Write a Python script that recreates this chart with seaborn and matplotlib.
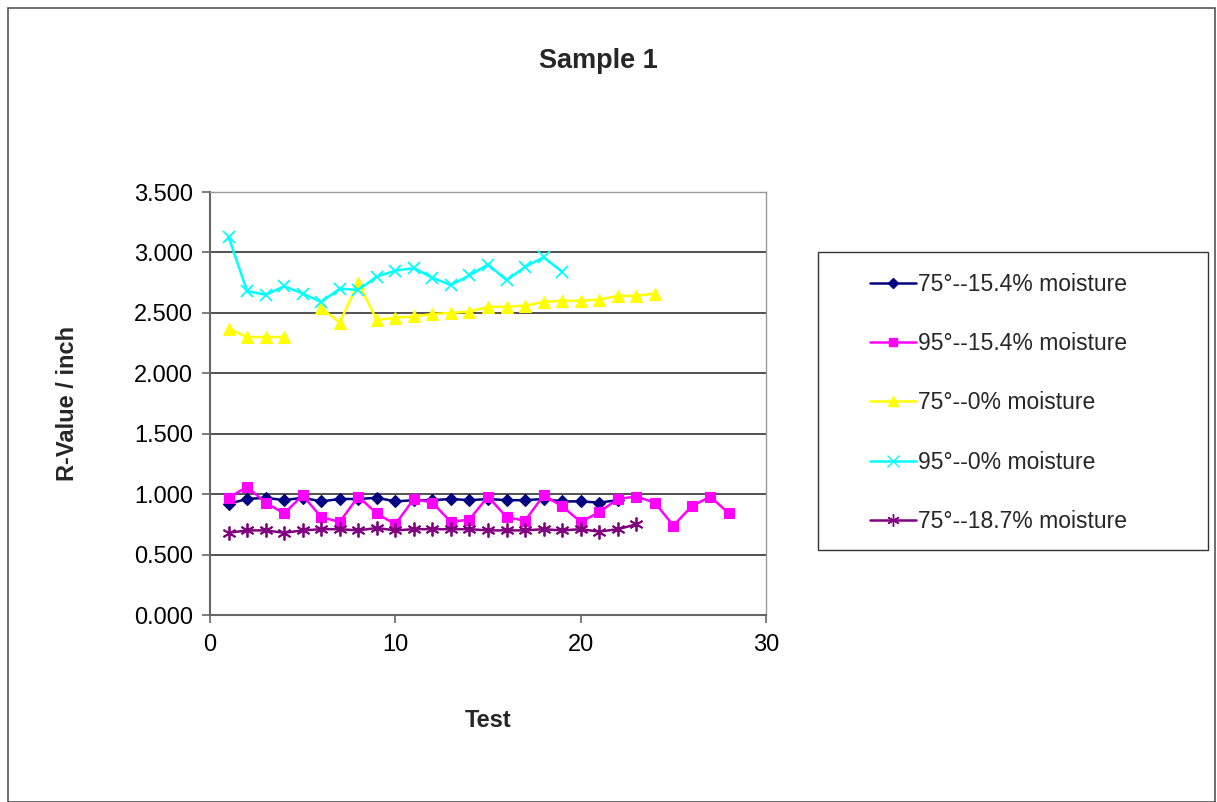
import numpy as np
import pandas as pd
import seaborn as sns
import matplotlib
matplotlib.use("Agg")
import matplotlib.pyplot as plt
from matplotlib.patches import Rectangle
from matplotlib.lines import Line2D

# Series readings (R-value per inch for each test run)
labels = [
    "75°--15.4% moisture",
    "95°--15.4% moisture",
    "75°--0% moisture",
    "95°--0% moisture",
    "75°--18.7% moisture",
]

r_75_154 = [0.92, 0.96, 0.97, 0.95, 0.97, 0.94, 0.96, 0.96, 0.97, 0.94, 0.95,
            0.95, 0.96, 0.95, 0.96, 0.95, 0.95, 0.96, 0.94, 0.94, 0.93, 0.95]
r_95_154 = [0.97, 1.06, 0.93, 0.84, 0.99, 0.81, 0.77, 0.98, 0.84, 0.75, 0.96,
            0.93, 0.77, 0.79, 0.98, 0.81, 0.78, 0.99, 0.90, 0.77, 0.85, 0.96,
            0.98, 0.93, 0.74, 0.90, 0.98, 0.84]
r_75_0 = [2.37, 2.30, 2.30, 2.30, np.nan, 2.54, 2.42, 2.75, 2.44, 2.46, 2.47,
          2.49, 2.50, 2.51, 2.55, 2.55, 2.56, 2.59, 2.60, 2.60, 2.61, 2.64,
          2.64, 2.66]
r_95_0 = [3.13, 2.68, 2.65, 2.72, 2.66, 2.59, 2.70, 2.69, 2.80, 2.85, 2.87,
          2.79, 2.73, 2.81, 2.90, 2.77, 2.88, 2.96, 2.84]
r_75_187 = [0.68, 0.70, 0.70, 0.68, 0.70, 0.71, 0.71, 0.70, 0.72, 0.70, 0.71,
            0.71, 0.71, 0.71, 0.70, 0.70, 0.70, 0.71, 0.70, 0.71, 0.69, 0.71,
            0.75]

series_values = [r_75_154, r_95_154, r_75_0, r_95_0, r_75_187]

colors = ["#000080", "#FF00FF", "#FFFF00", "#00FFFF", "#800080"]
markers = ["D", "s", "^", "x", (6, 2, 0)]
msizes = [6, 7, 8, 9, 10]

# Long-form table; a break in a series (missing test) starts a new segment
rows = []
for name, vals in zip(labels, series_values):
    seg = 0
    for i, v in enumerate(vals, start=1):
        if np.isnan(v):
            seg += 1
            continue
        rows.append({"series": name, "Test": i, "R": v, "seg": f"{name}-{seg}"})
df = pd.DataFrame(rows)

sns.set_style("white")
plt.rcParams["font.family"] = ["Liberation Sans", "DejaVu Sans"]

W, H = 1217, 802
fig = plt.figure(figsize=(W / 100, H / 100), dpi=100)
ax = fig.add_axes([210 / W, 1 - 615 / H, 556 / W, 423 / H])

for name, col, mk, ms in zip(labels, colors, markers, msizes):
    sub = df[df["series"] == name]
    thin = mk == "x" or isinstance(mk, tuple)
    sns.lineplot(data=sub, x="Test", y="R", units="seg", estimator=None,
                 color=col, marker=mk, markersize=ms, markeredgecolor=col,
                 markeredgewidth=1.3 if thin else 0.8,
                 linewidth=1.8, ax=ax, legend=False, sort=False)

ax.set_xlim(0, 30)
ax.set_ylim(0, 3.5)
ax.set_xticks([0, 10, 20, 30])
ax.set_yticks(np.arange(0, 3.51, 0.5))
ax.yaxis.set_major_formatter(matplotlib.ticker.FormatStrFormatter("%.3f"))
ax.grid(axis="y", color="#333333", linewidth=1.2)
ax.grid(axis="x", visible=False)
ax.set_axisbelow(True)
for side in ["top", "right"]:
    ax.spines[side].set_color("#999999")
    ax.spines[side].set_linewidth(1.0)
for side in ["left", "bottom"]:
    ax.spines[side].set_color("#666666")
    ax.spines[side].set_linewidth(1.5)
ax.tick_params(axis="both", direction="out", length=6, width=1.2, color="#666666",
               labelsize=17, labelcolor="black", left=True, bottom=True)
ax.tick_params(axis="y", pad=6)
ax.tick_params(axis="x", pad=8)

ax.set_xlabel("Test", fontsize=17, fontweight="bold", labelpad=38)
ax.set_ylabel("R-Value / inch", fontsize=17, fontweight="bold", labelpad=40)
fig.text(598 / W, 1 - 61 / H, "Sample 1", ha="center", va="center",
         fontsize=19.5, fontweight="bold")

# Legend box and entries, one per series
fig.patches.append(Rectangle((818 / W, 1 - 550 / H), 390 / W, 298 / H,
                             transform=fig.transFigure, fill=False,
                             edgecolor="#333333", linewidth=1.0))
handles = []
for name, col, mk, ms in zip(labels, colors, markers, msizes):
    handles.append(Line2D([], [], color=col, marker=mk, markersize=ms - 1,
                          markeredgecolor=col, linewidth=1.8))
leg = fig.legend(handles, labels, loc="upper left",
                 bbox_to_anchor=(870 / W, 1 - 273 / H),
                 bbox_transform=fig.transFigure, frameon=False,
                 fontsize=16.5, labelspacing=1.58, handlelength=2.0,
                 handletextpad=0.1, borderpad=0, borderaxespad=0)

# Outer chart frame
fig.patches.append(Rectangle((8 / W, 0), 1 - 10 / W, 1 - 8 / H,
                             transform=fig.transFigure, fill=False,
                             edgecolor="#555555", linewidth=1.2))

fig.savefig("out.png", dpi=100)
